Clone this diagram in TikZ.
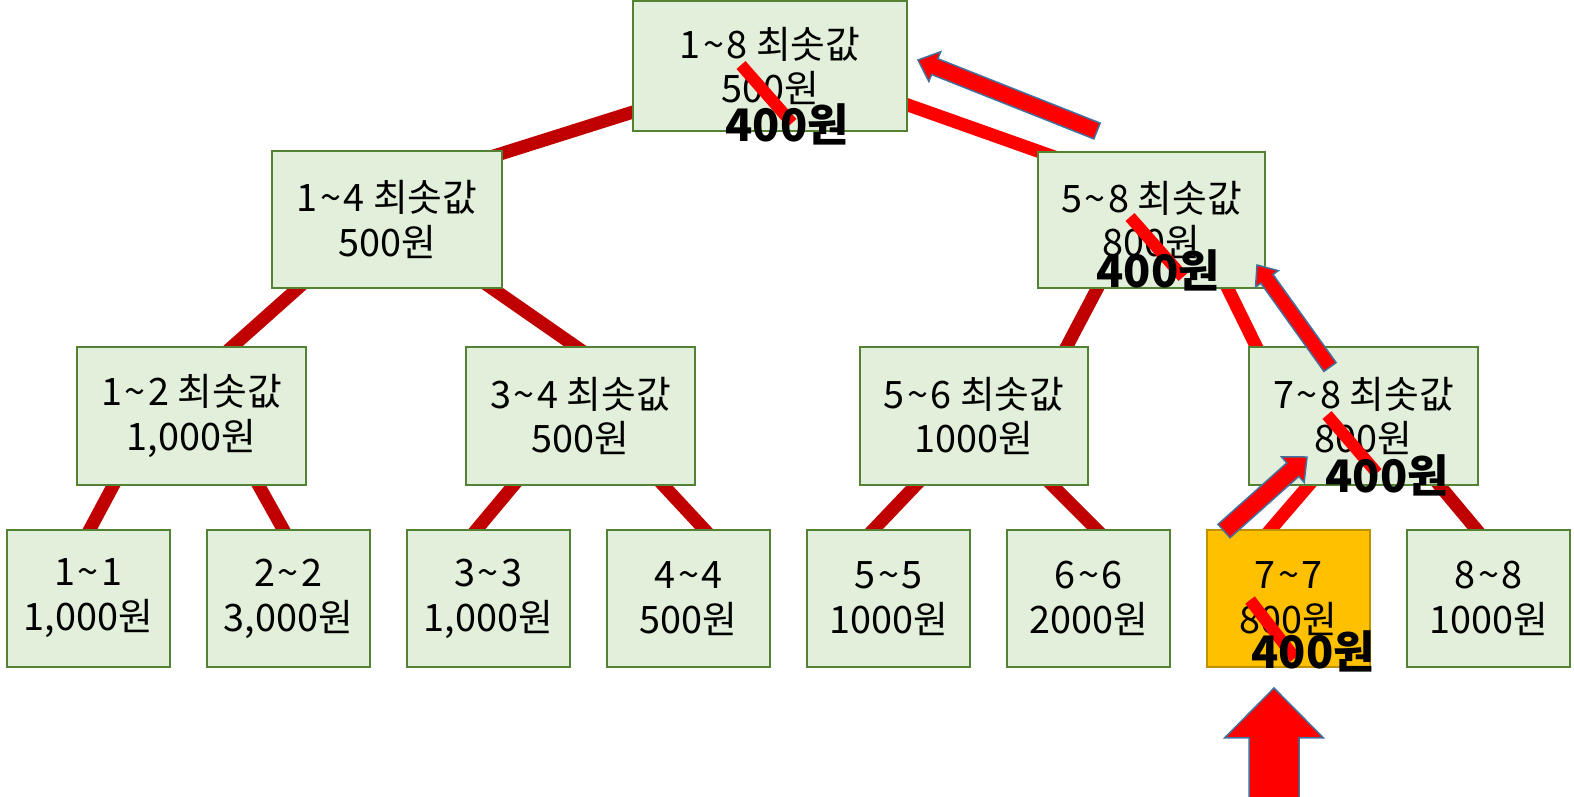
\documentclass[tikz,border=0pt]{standalone}
\usepackage{fontspec}
\setmainfont{Noto Sans CJK KR}
\usetikzlibrary{calc, backgrounds}

\definecolor{boxfill}{HTML}{E2EFDA}
\definecolor{boxline}{HTML}{548235}
\definecolor{hotfill}{HTML}{FFC000}
\definecolor{hotline}{HTML}{BF9000}
\definecolor{edgered}{HTML}{C00000}
\definecolor{brightred}{HTML}{FF0000}
\definecolor{arrowline}{HTML}{41719C}

\newcommand{\rangeof}[2]{#1\kern1.5pt\textasciitilde\kern1.5pt#2}
% fat arrow: tail, tip, shaft half width, head half width, head length
\newcommand{\fatarrow}[5]{%
  \coordinate (hb) at ($(#2)!#5!(#1)$);
  \filldraw[fatarrowstyle] ($(#1)!#3!90:(#2)$) -- ($(hb)!#3!90:(#2)$)
    -- ($(hb)!#4!90:(#2)$) -- (#2) -- ($(hb)!#4!-90:(#2)$)
    -- ($(hb)!#3!-90:(#2)$) -- ($(#1)!#3!-90:(#2)$) -- cycle;}

\tikzset{
  box/.style={draw=boxline, fill=boxfill, line width=0.04cm, align=center,
    inner sep=0pt, minimum width=4.58cm, minimum height=2.76cm,
    font=\fontsize{21.5}{25.5}\selectfont},
  leaf/.style={box, minimum width=3.26cm, minimum height=2.74cm},
  hotleaf/.style={leaf, draw=hotline, fill=hotfill},
  edge/.style={draw=edgered, line width=0.26cm, shorten <=-0.25cm, shorten >=-0.25cm},
  hotedge/.style={edge, draw=brightred},
  strike/.style={draw=brightred, line width=0.24cm},
  newval/.style={inner sep=0pt, font=\fontsize{25.5}{30}\selectfont\bfseries},
  fatarrowstyle/.style={fill=brightred, draw=arrowline, line width=0.03cm, line join=miter}
}

\begin{document}
\begin{tikzpicture}[x=0.02cm, y=-0.02cm]
  \useasboundingbox (0,0) rectangle (1574,797);
  % Tree nodes
  \node[box, minimum width=5.48cm, minimum height=2.6cm] (n18) at (770,66) {\rangeof{1}{8} 최솟값\\500원};
  \node[box, minimum width=4.6cm, minimum height=2.74cm] (n14) at (387,219.5) {\rangeof{1}{4} 최솟값\\500원};
  \node[box, minimum width=4.56cm, minimum height=2.72cm] (n58) at (1151.5,220) {\rangeof{5}{8} 최솟값\\800원};
  \node[box] (n12) at (191.5,416) {\rangeof{1}{2} 최솟값\\1,000원};
  \node[box] (n34) at (580.5,416) {\rangeof{3}{4} 최솟값\\500원};
  \node[box] (n56) at (974,416) {\rangeof{5}{6} 최솟값\\1000원};
  \node[box] (n78) at (1363.5,416) {\rangeof{7}{8} 최솟값\\800원};
  % Leaves
  \foreach \i/\val in {1/{1,000}, 2/{3,000}, 3/{1,000}, 4/500, 5/1000, 6/2000, 8/1000}
    \node[leaf] (n\i\i) at ({88.5+200*(\i-1)},598.5) {\rangeof{\i}{\i}\\\val{}원};
  \node[hotleaf] (n77) at (1288.5,598.5) {\rangeof{7}{7}\\800원};
  % Connectors
  \begin{scope}[on background layer]
    \draw[edge] ($(n18.south west)+(17,-25)$) -- ($(n14.north east)+(-22,10)$);
    \draw[hotedge] ($(n18.south east)+(-17,-33)$) -- ($(n58.north west)+(18,6)$);
    \draw[edge] ($(n14.south)+(-90,0)$) -- ($(n12.north)+(41.5,0)$);
    \draw[edge] ($(n14.south)+(106,0)$) -- ($(n34.north)+(-5.5,0)$);
    \draw[edge] ($(n58.south)+(-54.5,0)$) -- ($(n56.north)+(93,0)$);
    \draw[hotedge] ($(n58.south)+(76.5,0)$) -- ($(n78.north)+(-107.5,0)$);
    \draw[edge] ($(n12.south)+(-78.5,0)$) -- ($(n11.north)+(1.5,0)$);
    \draw[edge] ($(n12.south)+(67.5,0)$) -- ($(n22.north)+(-5.5,0)$);
    \draw[edge] ($(n34.south)+(-67.5,0)$) -- ($(n33.north)+(-11.5,0)$);
    \draw[edge] ($(n34.south)+(83.5,0)$) -- ($(n44.north)+(15.5,0)$);
    \draw[edge] ($(n56.south)+(-59,0)$) -- ($(n55.north)+(-14.5,0)$);
    \draw[edge] ($(n56.south)+(79,0)$) -- ($(n66.north)+(7.5,0)$);
    \draw[hotedge] ($(n78.south)+(-55.5,0)$) -- ($(n77.north)+(-17.5,0)$);
    \draw[edge] ($(n78.south)+(76.5,0)$) -- ($(n88.north)+(-12.5,0)$);
  \end{scope}
  % Struck-out old values
  \draw[strike] (741,65) -- (792,123);
  \draw[strike] (1130,217) -- (1183,277);
  \draw[strike] (1327,415) -- (1377,473);
  \draw[strike] (1250,600) -- (1295,658);
  % New values
  \node[newval, anchor=base] (v18) at (787,142) {400원};
  \node[newval, anchor=base] (v58) at (1158,287) {400원};
  \node[newval, anchor=base] (v78) at (1387,492) {400원};
  \node[newval, anchor=base] (v77) at (1313,668) {400원};
  % Update path arrows
  \coordinate (a1tail) at (1097,131);
  \coordinate (a1tip) at (918,60);
  \coordinate (a2tail) at (1330,367);
  \coordinate (a2tip) at (1257,265);
  \coordinate (a3tail) at (1224,531);
  \coordinate (a3tip) at (1307,457);
  \coordinate (a4tail) at (1274,800);
  \coordinate (a4tip) at (1274,688);
  \fatarrow{a1tail}{a1tip}{0.17cm}{0.32cm}{0.36cm}
  \fatarrow{a2tail}{a2tip}{0.15cm}{0.28cm}{0.34cm}
  \fatarrow{a3tail}{a3tip}{0.18cm}{0.34cm}{0.38cm}
  \fatarrow{a4tail}{a4tip}{0.5cm}{0.99cm}{1.0cm}
\end{tikzpicture}
\end{document}
